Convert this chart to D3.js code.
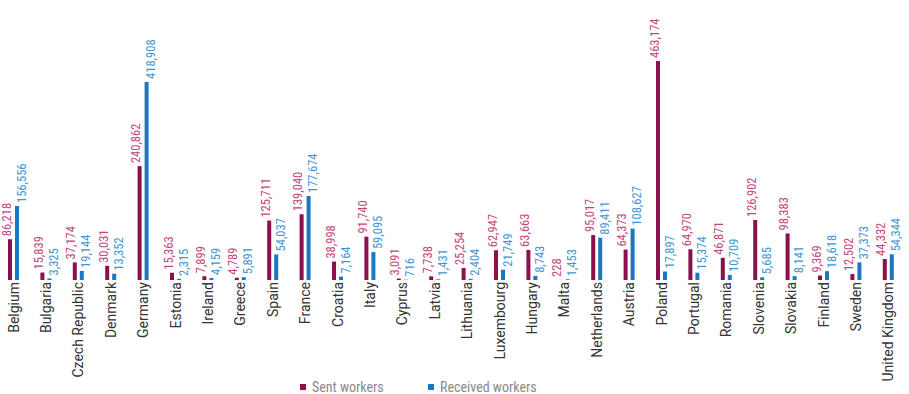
<!DOCTYPE html>
<html>
<head>
<meta charset="utf-8">
<script src="https://cdn.jsdelivr.net/npm/d3@7"></script>
<style>
    body { margin: 0; background: #fff; }
    .country { font-family: Roboto, "Liberation Sans", sans-serif; font-size: 14px; fill: #333; }
    .val { font-family: "Roboto Condensed", "Liberation Sans Narrow", "Arial Narrow", Roboto, sans-serif; font-stretch: condensed; font-size: 12.5px; }
    .legend { font-family: "Roboto Condensed", "Liberation Sans Narrow", Roboto, sans-serif; font-stretch: condensed; font-size: 14px; fill: #8a8a8a; }
</style>
</head>
<body>
<div id="chart"></div>
<script>
// posted workers per country
const countries = ["Belgium", "Bulgaria", "Czech Republic", "Denmark", "Germany", "Estonia", "Ireland", "Greece",
    "Spain", "France", "Croatia", "Italy", "Cyprus", "Latvia", "Lithuania", "Luxembourg", "Hungary", "Malta",
    "Netherlands", "Austria", "Poland", "Portugal", "Romania", "Slovenia", "Slovakia", "Finland", "Sweden", "United Kingdom"];
const sent = [86218, 15839, 37174, 30031, 240862, 15363, 7899, 4789, 125711, 139040, 38998, 91740, 3091, 7738,
    25254, 62947, 63663, 228, 95017, 64373, 463174, 64970, 46871, 126902, 98383, 9369, 12502, 44332];
const received = [156556, 3325, 19144, 13352, 418908, 2315, 4159, 5891, 54037, 177674, 7164, 59095, 716, 1431,
    2404, 21749, 8743, 1453, 89411, 108627, 17897, 15374, 10709, 5685, 8141, 18618, 37373, 54344];
const seriesNames = ["Sent workers", "Received workers"];

const barColor = {sent: "#8c0f4e", received: "#1a77c0"};
const labelColor = {sent: "#c4457a", received: "#3f95d4"};

const W = 909, H = 394;
const baseY = 280;

const svg = d3.select("#chart").append("svg")
    .attr("width", W)
    .attr("height", H);

let step = 32.4;
let x0 = d3.scaleBand()
    .domain(countries)
    .range([13.5 - step / 2, 13.5 + step * (countries.length - 0.5)]);

let x1 = d3.scaleBand()
    .domain(["sent", "received"])
    .range([-5.5, 5.5])
    .paddingInner(3 / 7);

let y = d3.scaleLinear()
    .domain([0, 463174])
    .range([baseY, 61]);

let data = countries.map((c, i) => ({country: c, sent: sent[i], received: received[i]}));

let groups = svg.selectAll("g.grp")
    .data(data)
    .enter()
    .append("g")
    .attr("class", "grp")
    .attr("transform", d => "translate(" + (x0(d.country) + x0.bandwidth() / 2) + ",0)");

["sent", "received"].forEach(key => {
    groups.append("rect")
        .attr("x", x1(key))
        .attr("y", d => y(d[key]))
        .attr("width", x1.bandwidth())
        .attr("height", d => baseY - y(d[key]))
        .attr("fill", barColor[key]);

    let off = key === "sent" ? -7.5 : 7.5;
    groups.append("text")
        .attr("class", "val")
        .attr("transform", d => "translate(" + (off + 4.5) + "," + (y(d[key]) - 3) + ") rotate(-90)")
        .attr("fill", labelColor[key])
        .text(d => d3.format(",")(d[key]));
});

// country names
groups.append("text")
    .attr("class", "country")
    .attr("transform", "translate(5," + (baseY + 2) + ") rotate(-90)")
    .attr("text-anchor", "end")
    .text(d => d.country);

// legend
let legend = svg.selectAll("g.leg")
    .data(seriesNames)
    .enter()
    .append("g")
    .attr("class", "leg")
    .attr("transform", (d, i) => "translate(" + (300 + i * 128) + ",384)");

legend.append("rect")
    .attr("width", 6)
    .attr("height", 6)
    .attr("fill", (d, i) => i === 0 ? barColor.sent : barColor.received);

legend.append("text")
    .attr("class", "legend")
    .attr("x", 12)
    .attr("y", 8)
    .text(d => d);
</script>
</body>
</html>
